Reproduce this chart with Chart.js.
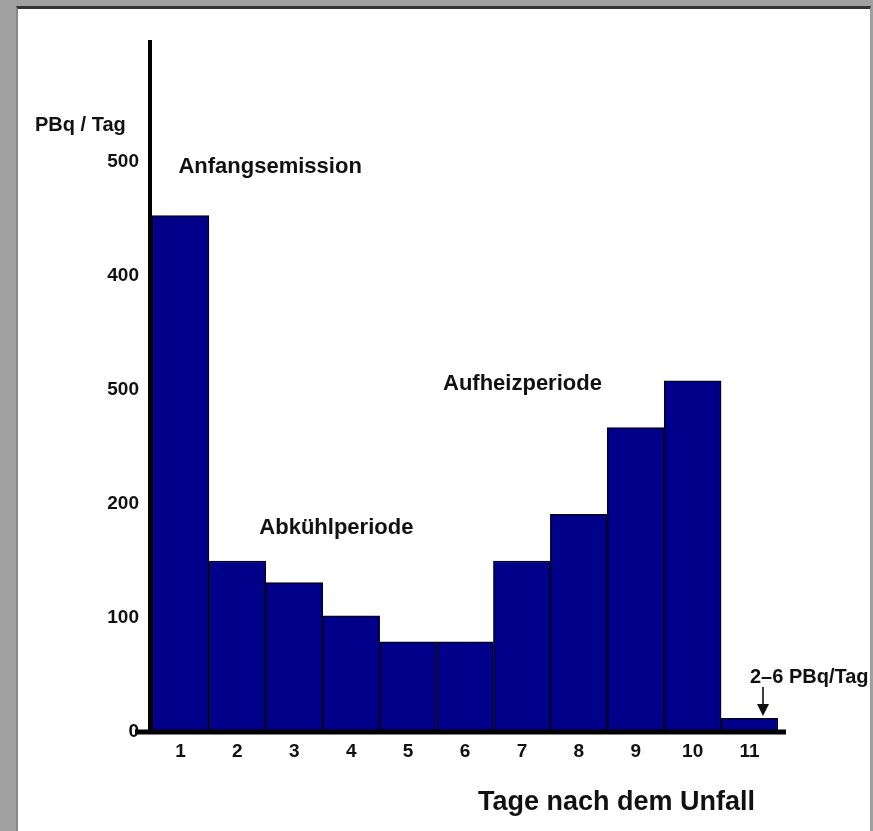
<!DOCTYPE html>
<html>
<head>
<meta charset="utf-8">
<script src="https://cdn.jsdelivr.net/npm/chart.js@4.4.0/dist/chart.umd.min.js"></script>
<style>
  html, body { margin: 0; padding: 0; }
  body { width: 873px; height: 831px; background: #a0a0a0; position: relative; overflow: hidden; }
  #frame {
    position: absolute; left: 16px; top: 6px; width: 855px; height: 830px;
    background: #fff; border-top: 3px solid #333; border-left: 2px solid #888;
    border-right: 1px solid #999; box-sizing: border-box;
  }
  #mycanvas { position: absolute; left: 0; top: 0; }
</style>
</head>
<body>
<div id="frame"></div>
<canvas id="mycanvas" width="873" height="831"></canvas>
<script>
// Tage nach dem Unfall
var days = ['1', '2', '3', '4', '5', '6', '7', '8', '9', '10', '11'];
// PBq / Tag
var emission = [453, 150, 131, 102, 79, 79, 150, 191, 267, 308, 12];
// tick values and the labels printed on the original (note "500" at the 300 mark)
var yTickValues = [0, 100, 200, 300, 400, 500];
var yTickLabels = ['0', '100', '200', '500', '400', '500'];

var font = 'Liberation Sans, Arial, sans-serif';

var decor = {
    id: 'decor',
    afterDraw: function (chart) {
        var ctx = chart.ctx;
        var a = chart.chartArea;
        var xs = chart.scales.x;
        var ys = chart.scales.y;
        ctx.save();
        ctx.strokeStyle = '#000';
        ctx.lineCap = 'butt';

        // y axis line
        ctx.lineWidth = 4;
        ctx.beginPath();
        ctx.moveTo(a.left - 2, a.top);
        ctx.lineTo(a.left - 2, a.bottom + 2);
        ctx.stroke();

        // x axis line incl. zero tick
        ctx.lineWidth = 5;
        ctx.beginPath();
        ctx.moveTo(a.left - 17, a.bottom);
        ctx.lineTo(a.right + 8, a.bottom);
        ctx.stroke();

        ctx.fillStyle = '#111';
        ctx.textBaseline = 'middle';
        ctx.textAlign = 'left';

        ctx.font = 'bold 20px ' + font;
        ctx.fillText('PBq / Tag', 35, 125);

        ctx.font = 'bold 22px ' + font;
        ctx.fillText('Anfangsemission', xs.getPixelForValue(0) - 2, ys.getPixelForValue(496));
        ctx.fillText('Abkühlperiode', xs.getPixelForValue(1) + 22, ys.getPixelForValue(179));
        ctx.fillText('Aufheizperiode', xs.getPixelForValue(5) - 22, ys.getPixelForValue(305));

        ctx.font = 'bold 20px ' + font;
        ctx.fillText('2\u20136 PBq/Tag', 750, 677);

        // arrow to day 11
        var ax = 763;
        ctx.lineWidth = 1.5;
        ctx.beginPath();
        ctx.moveTo(ax, 687);
        ctx.lineTo(ax, 706);
        ctx.stroke();
        ctx.beginPath();
        ctx.moveTo(ax - 6, 704);
        ctx.lineTo(ax + 6, 704);
        ctx.lineTo(ax, 716);
        ctx.closePath();
        ctx.fill();

        ctx.font = 'bold 27px ' + font;
        ctx.fillText('Tage nach dem Unfall', 478, 803);
        ctx.restore();
    }
};

var ctx = document.getElementById('mycanvas');

var barGraph = new Chart(ctx, {
    type: 'bar',
    data: {
        labels: days,
        datasets: [
            {
                label: 'PBq / Tag',
                data: emission,
                backgroundColor: '#00008a',
                borderColor: '#000020',
                borderWidth: 1.5,
                categoryPercentage: 1.0,
                barPercentage: 1.0
            }
        ]
    },
    options: {
        responsive: false,
        animation: false,
        layout: { padding: { left: 0, top: 40, right: 95, bottom: 59 } },
        plugins: {
            legend: { display: false },
            tooltip: { enabled: false }
        },
        scales: {
            x: {
                grid: { display: false, drawTicks: false },
                border: { display: false },
                ticks: { color: '#111', font: { family: font, size: 19, weight: 'bold' }, padding: 8, maxRotation: 0 },
                afterFit: function (s) { s.height = 40; }
            },
            y: {
                min: 0,
                max: 607,
                grid: { display: false, drawTicks: false },
                border: { display: false },
                afterBuildTicks: function (s) {
                    s.ticks = yTickValues.map(function (v) { return { value: v }; });
                },
                ticks: {
                    autoSkip: false,
                    color: '#111',
                    font: { family: font, size: 19, weight: 'bold' },
                    padding: 13,
                    callback: function (v, i) { return yTickLabels[i]; }
                },
                afterFit: function (s) { s.width = 152; }
            }
        }
    },
    plugins: [decor]
});
</script>
</body>
</html>
